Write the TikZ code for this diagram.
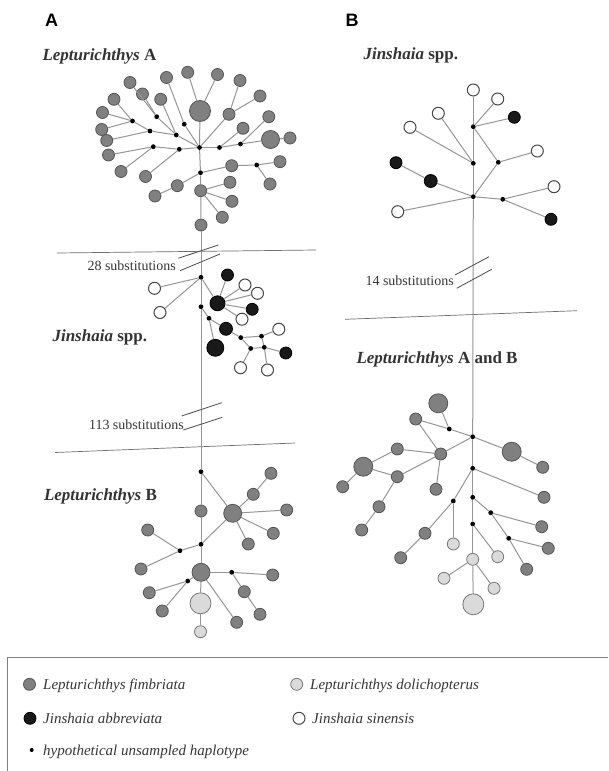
\documentclass[tikz,border=0pt]{standalone}
\usepackage{fontspec}
\setmainfont{Liberation Serif}
\newfontfamily\arialf{Liberation Sans}
\definecolor{fimc}{RGB}{128,128,128}
\definecolor{fimd}{RGB}{85,85,85}
\definecolor{dolc}{RGB}{218,218,218}
\definecolor{dold}{RGB}{120,120,120}
\definecolor{sind}{RGB}{70,70,70}
\definecolor{edgec}{RGB}{150,150,150}
\definecolor{sepc}{RGB}{110,110,110}
\definecolor{txtc}{RGB}{55,55,55}
\tikzset{
  hap/.style={circle, inner sep=0pt, minimum size=12pt, line width=0.8pt},
  fim/.style={hap, fill=fimc, draw=fimd},
  dol/.style={hap, fill=dolc, draw=dold},
  abb/.style={hap, fill=black!90, draw=black},
  sin/.style={hap, fill=white, draw=sind, line width=1pt},
  hyp/.style={circle, inner sep=0pt, minimum size=4.8pt, fill=black, draw=none},
  big/.style={minimum size=#1pt},
  ln/.style={draw=edgec, line width=1pt},
  sep/.style={draw=sepc, line width=0.7pt},
  slash/.style={draw=black!70, line width=0.8pt},
  grp/.style={anchor=base west, font=\fontsize{17}{20}\selectfont\bfseries, text=black!80},
  subst/.style={anchor=base east, font=\fontsize{14}{16}\selectfont, text=txtc, inner sep=0pt},
  legt/.style={anchor=base west, font=\fontsize{15}{18}\selectfont\itshape, text=txtc, inner sep=0pt},
  panel/.style={font=\arialf\fontsize{18}{20}\selectfont\bfseries},
}
\begin{document}
\begin{tikzpicture}[x=1pt,y=-1pt]
\useasboundingbox (0,0) rectangle (608,771);
\fill[white] (0,0) rectangle (608,771);

% panel labels
\node[panel] (pA) at (51.5,20) {A};
\node[panel] (pB) at (352,20) {B};

% group labels
\node[grp] (tLA) at (39,60) {\textit{Lepturichthys} A};
\node[grp] (tJA) at (49,341) {\textit{Jinshaia} spp.};
\node[grp] (tLB) at (40.5,500.5) {\textit{Lepturichthys} B};
\node[grp] (tJB) at (360,59) {\textit{Jinshaia} spp.};
\node[grp] (tLAB) at (353,363.5) {\textit{Lepturichthys} A and B};

% separators
\draw[sep] (57,253) -- (316,250);
\draw[sep] (55,452.5) -- (295,443);
\draw[sep] (345,319.3) -- (577,310.7);

% ---------------- Panel A : Lepturichthys A ----------------
\node[fim,big=21] (aBig) at (200,111) {};
\node[hyp] (aC) at (199.5,147.5) {};
\node[fim] (g1) at (187.7,72.3) {};
\node[fim] (g2) at (217.5,74.5) {};
\node[fim] (g3) at (240,80.5) {};
\node[fim] (g4) at (260,96) {};
\node[fim] (aN1) at (229,114.3) {};
\node[fim] (g5) at (268.8,116.7) {};
\node[fim] (g6) at (243,128.3) {};
\node[hyp] (aD2) at (219.5,147.5) {};
\node[hyp] (aD3) at (240.5,144) {};
\node[fim,big=18] (aBig2) at (270.5,139.5) {};
\node[fim] (g7) at (290,138) {};
\node[hyp] (aD4) at (184.2,124.2) {};
\node[fim] (g8) at (166.5,77.5) {};
\node[hyp] (aD5) at (156.7,116.7) {};
\node[fim] (g9) at (130,82.5) {};
\node[fim] (g10) at (142.5,94) {};
\node[hyp] (aD6) at (176.3,135) {};
\node[fim] (g11) at (160.7,99.3) {};
\node[hyp] (aD7) at (132.5,121) {};
\node[fim] (g12) at (114,99.3) {};
\node[fim] (g13) at (102.5,112.5) {};
\node[fim] (g14) at (101.7,129.5) {};
\node[hyp] (aD8) at (150,131) {};
\node[fim] (g15) at (106.7,140.5) {};
\node[hyp] (aD9) at (153.3,146.7) {};
\node[fim] (g16) at (108.5,155) {};
\node[fim] (g17) at (121,171.5) {};
\node[hyp] (aD10) at (179.3,149.3) {};
\node[fim] (g18) at (145.5,176.5) {};
\node[hyp] (aD11) at (200.5,172.7) {};
\node[fim] (g19) at (231.7,165.7) {};
\node[hyp] (aD12) at (256.7,165) {};
\node[fim] (g20) at (280,161.7) {};
\node[fim] (g21) at (270,184) {};
\node[fim] (g22) at (177.3,185.7) {};
\node[fim] (g23) at (155,196) {};
\node[fim] (aG) at (200.7,190.7) {};
\node[fim] (g24) at (230,182.3) {};
\node[fim] (g25) at (232,201.3) {};
\node[fim] (g26) at (222.3,217.3) {};
\node[fim] (aG2) at (201,225) {};

\foreach \a/\b in {aBig/aC, g1/aBig, g2/aBig, g3/aN1, g4/aN1, aN1/aC, g5/aD3, g6/aD2,
  aD2/aC, aD2/aD3, aD3/aBig2, aBig2/g7, aD4/aC, g8/aD4, g9/aD5, g10/aD5, aD5/aD6,
  aD6/aC, g11/aD6, g12/aD7, g13/aD7, g14/aD7, aD7/aD8, aD8/aD6, g15/aD8, g16/aD9,
  g17/aD9, aD9/aD10, aD10/aC, g18/aD10, aC/aD11, g19/aD11, g19/aD12, aD12/g20,
  aD12/g21, g22/aD11, g22/g23, aD11/aG, aG/g24, aG/g25, aG/g26, aG/aG2}
  \draw[ln] (\a) -- (\b);

% ---------------- Panel A : Jinshaia ----------------
\node[hyp] (jD1) at (201,277.3) {};
\node[sin] (jO1) at (154.5,288.3) {};
\node[sin] (jO2) at (160,312.5) {};
\node[abb] (jB1) at (227.5,275) {};
\node[abb,big=15] (jBB) at (217.5,303.3) {};
\node[sin] (jO3) at (245,285) {};
\node[sin] (jO4) at (257.5,293.3) {};
\node[abb] (jB2) at (252.2,309.3) {};
\node[sin] (jO5) at (242,319.2) {};
\node[hyp] (jD2) at (201,306.7) {};
\node[hyp] (jD3) at (209,318.3) {};
\node[abb,big=13] (jB3) at (226,328.8) {};
\node[abb,big=17] (jBB2) at (215.3,347.8) {};
\node[hyp] (jD4) at (240.8,337.6) {};
\node[hyp] (jD5) at (261.5,336.2) {};
\node[sin] (jO6) at (278.8,329.2) {};
\node[hyp] (jD6) at (250.7,348.5) {};
\node[hyp] (jD7) at (264.3,347.3) {};
\node[abb] (jB4) at (285.8,353) {};
\node[sin] (jO7) at (240.5,367.7) {};
\node[sin] (jO8) at (267.5,370) {};

\foreach \a/\b in {aG2/jD1, jD1/jO1, jD1/jO2, jD1/jBB, jB1/jBB, jBB/jO3, jBB/jO4, jBB/jB2,
  jBB/jO5, jD1/jD2, jD2/jD3, jD3/jB3, jB3/jD4, jD4/jD5, jD5/jO6, jD4/jD6, jD6/jO7,
  jD6/jD7, jD7/jB4, jD5/jD7, jD7/jO8, jD3/jBB2}
  \draw[ln] (\a) -- (\b);

% ---------------- Panel A : Lepturichthys B ----------------
\node[hyp] (bD1) at (201,471.7) {};
\node[fim,big=18] (bBig) at (232.7,513.3) {};
\node[fim] (bG1) at (253.3,494.3) {};
\node[fim] (bG2) at (271,473.3) {};
\node[fim] (bG3) at (286.7,510) {};
\node[fim] (bG4) at (273.3,533.3) {};
\node[fim] (bG5) at (248.3,544) {};
\node[fim] (bG6) at (201,511) {};
\node[hyp] (bD2) at (201,544.3) {};
\node[hyp] (bD3) at (180,550.7) {};
\node[fim] (bG7) at (147.7,530) {};
\node[fim] (bG8) at (141,569) {};
\node[fim,big=18] (bBig2) at (201,572.3) {};
\node[hyp] (bD4) at (231.7,572.3) {};
\node[fim] (bG9) at (272.7,575) {};
\node[fim] (bG10) at (244.3,591.7) {};
\node[fim] (bG11) at (260,614.3) {};
\node[hyp] (bD5) at (187.7,581) {};
\node[fim] (bG12) at (149.3,592.7) {};
\node[fim] (bG13) at (162.3,611) {};
\node[dol,big=21] (bL1) at (200.5,603.3) {};
\node[fim] (bG14) at (236.7,622.3) {};
\node[dol,big=12] (bL2) at (200.5,631.7) {};

\foreach \a/\b in {jD2/bD1, bD1/bG6, bG6/bD2, bD2/bBig2, bBig2/bL1, bL1/bL2, bD1/bBig,
  bBig/bG1, bG1/bG2, bBig/bG3, bBig/bG4, bBig/bG5, bBig/bD2, bD2/bD3, bD3/bG7,
  bD3/bG8, bBig2/bD4, bD4/bG9, bD4/bG10, bG10/bG11, bBig2/bD5, bD5/bG12,
  bD5/bG13, bBig2/bG14}
  \draw[ln] (\a) -- (\b);

% ---------------- Panel B : Jinshaia ----------------
\node[sin] (kO1) at (473.3,90) {};
\node[sin] (kO2) at (497.7,99) {};
\node[abb] (kB1) at (514.3,117.3) {};
\node[hyp] (kD1) at (473.3,126.7) {};
\node[sin] (kO3) at (438.3,113.3) {};
\node[sin] (kO4) at (410,127.3) {};
\node[hyp] (kD2) at (473.3,163.3) {};
\node[hyp] (kD3) at (498.3,162.3) {};
\node[sin] (kO5) at (537.3,151) {};
\node[abb] (kB2) at (396,162.7) {};
\node[abb,big=13] (kB3) at (430.7,181) {};
\node[hyp] (kD4) at (473.3,196.7) {};
\node[hyp] (kD5) at (502.7,199.3) {};
\node[sin] (kO6) at (554,186.7) {};
\node[abb] (kB4) at (551,219.3) {};
\node[sin] (kO7) at (397.7,211.7) {};

\foreach \a/\b in {kO1/kD1, kD1/kD2, kD2/kD4, kD1/kO2, kD1/kB1, kD1/kD3, kD3/kO5,
  kD3/kD4, kD2/kO3, kD2/kO4, kD4/kB3, kB3/kB2, kD4/kO7, kD4/kD5, kD5/kO6, kD5/kB4}
  \draw[ln] (\a) -- (\b);

% ---------------- Panel B : Lepturichthys A and B ----------------
\node[fim,big=19] (lBig1) at (438.3,403.3) {};
\node[hyp] (lD0) at (449.3,429) {};
\node[fim] (lG1) at (415.7,419) {};
\node[hyp] (lD1) at (472.7,436.7) {};
\node[fim,big=19] (lBig2) at (511.7,451.7) {};
\node[fim] (lG2) at (542.7,467.3) {};
\node[fim] (lG3) at (397.3,449) {};
\node[fim] (lG4) at (440.7,454) {};
\node[fim,big=19] (lBig3) at (363.3,466.7) {};
\node[fim] (lG5) at (397.3,476.7) {};
\node[fim] (lG6) at (342.7,486.7) {};
\node[fim] (lG7) at (436,489.3) {};
\node[hyp] (lD2) at (472.7,468.3) {};
\node[fim] (lG8) at (544,497.3) {};
\node[hyp] (lD3) at (472.7,497.3) {};
\node[hyp] (lD4) at (490.7,512.7) {};
\node[fim] (lG9) at (541.7,526.7) {};
\node[hyp] (lD5) at (508.7,538.3) {};
\node[fim] (lG10) at (548.3,548.3) {};
\node[fim] (lG11) at (526.7,569.3) {};
\node[hyp] (lD6) at (453.3,501) {};
\node[fim] (lG12) at (379,506.7) {};
\node[fim] (lG13) at (361.7,530) {};
\node[fim] (lG14) at (425,533.3) {};
\node[fim] (lG15) at (400.7,557.7) {};
\node[dol] (lL1) at (453.3,544) {};
\node[hyp] (lD7) at (472.7,524) {};
\node[dol] (lL2) at (497.7,556.7) {};
\node[dol] (lL3) at (472.7,559.3) {};
\node[dol] (lL4) at (444,578.3) {};
\node[dol] (lL5) at (494,588.3) {};
\node[dol,big=21] (lL6) at (473.3,604.3) {};

\foreach \a/\b in {kD4/lD1, lBig1/lD0, lG1/lD0, lD0/lD1, lG1/lG4, lD1/lG4, lG4/lG3,
  lG3/lBig3, lBig3/lG6, lBig3/lG5, lG5/lG4, lG4/lG7, lG5/lG12, lG12/lG13, lD1/lBig2,
  lBig2/lG2, lD1/lD2, lD2/lG8, lD2/lD6, lD6/lG14, lG14/lG15, lD6/lL1, lD2/lD3,
  lD3/lD4, lD4/lG9, lD4/lD5, lD5/lG10, lD5/lG11, lD3/lD7, lD7/lL2, lD7/lL3,
  lL3/lL4, lL3/lL5, lL3/lL6}
  \draw[ln] (\a) -- (\b);

% substitution marks
\draw[slash] (178.3,258.3) -- (218.3,245);
\draw[slash] (180,270.7) -- (220,254);
\node[subst] (s28) at (176,270) {28 substitutions};
\draw[slash] (181.7,416) -- (221.7,402.7);
\draw[slash] (183.3,430) -- (222.3,417.3);
\node[subst] (s113) at (184,429.5) {113 substitutions};
\draw[slash] (455,275) -- (489,256.7);
\draw[slash] (456.7,288.3) -- (491.7,269.3);
\node[subst] (s14) at (454,285) {14 substitutions};

% legend
\draw[draw=black!50, line width=0.8pt] (608,657) -- (7,657) -- (7,775);
\node[fim,big=12] (k1) at (29.5,684.3) {};
\node[legt] (k1t) at (43,689.5) {Lepturichthys fimbriata};
\node[abb,big=12] (k2) at (30,718.3) {};
\node[legt] (k2t) at (43,723.5) {Jinshaia abbreviata};
\node[hyp,minimum size=4pt] (k3) at (31.7,750) {};
\node[legt] (k3t) at (43,755.2) {hypothetical unsampled haplotype};
\node[dol,big=12] (k4) at (296.7,684.3) {};
\node[legt] (k4t) at (310,689.5) {Lepturichthys dolichopterus};
\node[sin,big=12] (k5) at (299,718.3) {};
\node[legt] (k5t) at (312,723.5) {Jinshaia sinensis};
\end{tikzpicture}
\end{document}
